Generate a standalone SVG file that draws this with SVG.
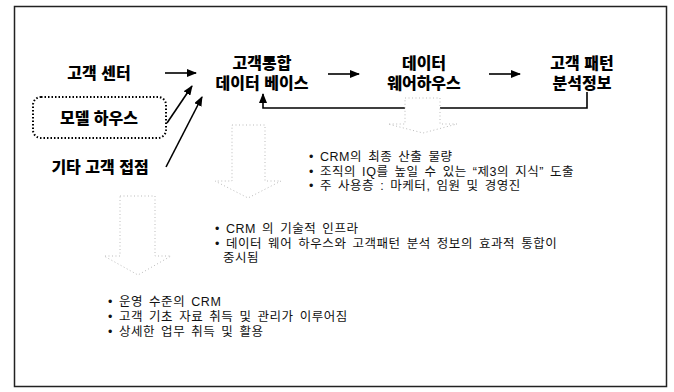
<svg xmlns="http://www.w3.org/2000/svg" width="674" height="392" viewBox="0 0 674 392">
<defs>
<marker id="ah" markerWidth="10" markerHeight="8" refX="9" refY="4" orient="auto" markerUnits="userSpaceOnUse">
<path d="M0,0 L10,4 L0,8 Z" fill="#000"/>
</marker>
<style>
.h{font-family:"Liberation Sans","Noto Sans CJK KR",sans-serif;font-weight:900;font-size:16px;fill:#000;text-anchor:middle}
.b{font-family:"Liberation Sans","Noto Sans CJK KR",sans-serif;font-size:12.5px;fill:#111;word-spacing:2px;letter-spacing:0.55px}
.c{stroke:#000;stroke-width:1.6;fill:none;marker-end:url(#ah)}
.blk{fill:#fff;stroke:#bbb;stroke-width:1;stroke-dasharray:1 2.5}
</style>
</defs>
<rect x="14.5" y="6.5" width="652" height="380" fill="#fff" stroke="#222" stroke-width="1.5"/>

<g id="connectors">
<line class="c" x1="165" y1="73" x2="196" y2="73"/>
<line class="c" x1="328" y1="74" x2="359" y2="74"/>
<line class="c" x1="489" y1="74" x2="520" y2="74"/>
<line class="c" x1="167" y1="123" x2="192" y2="86"/>
<line class="c" x1="166" y1="167" x2="202" y2="97"/>
<path class="c" d="M587,92 V108 H263 V94"/>
</g>

<g id="block-arrows">
<path class="blk" d="M405,98 H440 V124 H457 L423,133 L388,124 H405 Z"/>
<path class="blk" d="M232,125 H265 V181 H281 L248,198 L215,181 H232 Z"/>
<path class="blk" d="M120,196 H155 V256 H171 L138,275 L104,256 H120 Z"/>
</g>

<g id="n-center"><text class="h" x="99" y="79">고객 센터</text></g>
<g id="n-model">
<rect x="33" y="97" width="133" height="41" rx="8" fill="none" stroke="#000" stroke-width="2" stroke-dasharray="1.5 2"/>
<text class="h" x="99" y="124">모델 하우스</text>
</g>
<g id="n-etc"><text class="h" x="100" y="173">기타 고객 접점</text></g>
<g id="n-db"><text class="h" x="262" y="69">고객통합</text><text class="h" x="262" y="89">데이터 베이스</text></g>
<g id="n-dw"><text class="h" x="424" y="69">데이터</text><text class="h" x="424" y="89">웨어하우스</text></g>
<g id="n-pattern"><text class="h" x="582" y="69">고객 패턴</text><text class="h" x="582" y="89">분석정보</text></g>

<g id="t1">
<text class="b" x="309" y="161">• CRM의 최종 산출 물량</text>
<text class="b" x="309" y="175.5">• 조직의 IQ를 높일 수 있는 “제3의 지식” 도출</text>
<text class="b" x="309" y="190">• 주 사용층 : 마케터, 임원 및 경영진</text>
</g>
<g id="t2">
<text class="b" x="215" y="233">• CRM 의 기술적 인프라</text>
<text class="b" x="215" y="247.5">• 데이터 웨어 하우스와 고객패턴 분석 정보의 효과적 통합이</text>
<text class="b" x="223" y="262">중시됨</text>
</g>
<g id="t3">
<text class="b" x="108" y="306">• 운영 수준의 CRM</text>
<text class="b" x="108" y="321">• 고객 기초 자료 취득 및 관리가 이루어짐</text>
<text class="b" x="108" y="336">• 상세한 업무 취득 및 활용</text>
</g>
</svg>
